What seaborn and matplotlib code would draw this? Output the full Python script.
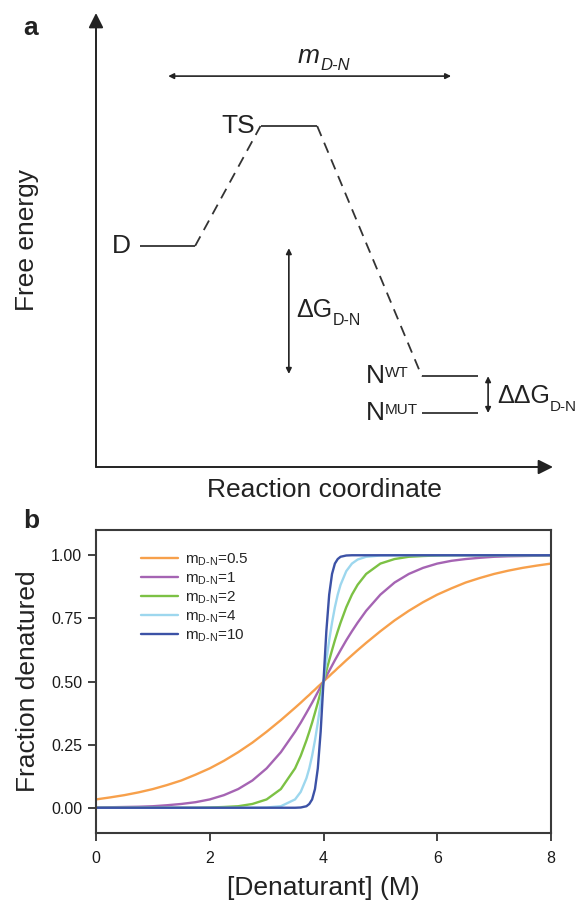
import numpy as np
import pandas as pd
import matplotlib
matplotlib.use("Agg")
import matplotlib.pyplot as plt
import seaborn as sns

# ---------------- data ----------------
# Panel a: schematic free-energy levels (arbitrary units)
state_names = ["D", "TS", "N", "N"]
state_sups = ["", "", "WT", "MUT"]
level_x_start = [0.96, 3.60, 7.13, 7.13]
level_x_end = [2.17, 4.84, 8.36, 8.36]
level_energy = [4.87, 7.51, 2.00, 1.19]

# Panel b: fraction denatured vs denaturant concentration
conc = [0, 0.25, 0.5, 0.75, 1, 1.25, 1.5, 1.75, 2, 2.25,
        2.5, 2.75, 3, 3.25, 3.5, 3.6, 3.7, 3.75, 3.8, 3.85,
        3.9, 3.95, 4, 4.05, 4.1, 4.15, 4.2, 4.25, 4.3, 4.4,
        4.5, 4.6, 4.75, 5, 5.25, 5.5, 5.75, 6, 6.25, 6.5,
        6.75, 7, 7.25, 7.5, 7.75, 8]
frac_m0_5 = [0.033, 0.041, 0.050, 0.061, 0.074, 0.090, 0.108, 0.131, 0.156, 0.186,
             0.220, 0.258, 0.301, 0.347, 0.396, 0.416, 0.437, 0.447, 0.458, 0.468,
             0.479, 0.489, 0.500, 0.511, 0.521, 0.532, 0.542, 0.553, 0.563, 0.584,
             0.604, 0.624, 0.653, 0.699, 0.742, 0.780, 0.814, 0.844, 0.869, 0.892,
             0.910, 0.926, 0.939, 0.950, 0.959, 0.967]
frac_m1 = [0.001, 0.002, 0.003, 0.004, 0.006, 0.010, 0.015, 0.022, 0.033, 0.050,
           0.074, 0.108, 0.156, 0.220, 0.301, 0.337, 0.376, 0.396, 0.416, 0.437,
           0.458, 0.479, 0.500, 0.521, 0.542, 0.563, 0.584, 0.604, 0.624, 0.663,
           0.699, 0.733, 0.780, 0.844, 0.892, 0.926, 0.950, 0.967, 0.978, 0.985,
           0.990, 0.994, 0.996, 0.997, 0.998, 0.999]
frac_m2 = [0.000, 0.000, 0.000, 0.000, 0.000, 0.000, 0.000, 0.000, 0.001, 0.003,
           0.006, 0.015, 0.033, 0.074, 0.156, 0.206, 0.267, 0.301, 0.337, 0.376,
           0.416, 0.458, 0.500, 0.542, 0.584, 0.624, 0.663, 0.699, 0.733, 0.794,
           0.844, 0.883, 0.926, 0.967, 0.985, 0.994, 0.997, 0.999, 1.000, 1.000,
           1.000, 1.000, 1.000, 1.000, 1.000, 1.000]
frac_m4 = [0.000, 0.000, 0.000, 0.000, 0.000, 0.000, 0.000, 0.000, 0.000, 0.000,
           0.000, 0.000, 0.001, 0.006, 0.033, 0.063, 0.117, 0.156, 0.206, 0.267,
           0.337, 0.416, 0.500, 0.584, 0.663, 0.733, 0.794, 0.844, 0.883, 0.937,
           0.967, 0.983, 0.994, 0.999, 1.000, 1.000, 1.000, 1.000, 1.000, 1.000,
           1.000, 1.000, 1.000, 1.000, 1.000, 1.000]
frac_m10 = [0.000, 0.000, 0.000, 0.000, 0.000, 0.000, 0.000, 0.000, 0.000, 0.000,
            0.000, 0.000, 0.000, 0.000, 0.000, 0.001, 0.006, 0.015, 0.033, 0.074,
            0.156, 0.301, 0.500, 0.699, 0.844, 0.926, 0.967, 0.985, 0.994, 0.999,
            1.000, 1.000, 1.000, 1.000, 1.000, 1.000, 1.000, 1.000, 1.000, 1.000,
            1.000, 1.000, 1.000, 1.000, 1.000, 1.000]
m_values = ["0.5", "1", "2", "4", "10"]
curve_colors = ["#F7A04B", "#A564B3", "#7CC144", "#9DD7EE", "#3C52A6"]
yticks_b = [0.00, 0.25, 0.50, 0.75, 1.00]
xticks_b = [0, 2, 4, 6, 8]

# ---------------- style ----------------
sns.set_theme(style="ticks")
plt.rcParams["font.family"] = ["Liberation Sans", "DejaVu Sans"]
plt.rcParams["mathtext.fontset"] = "custom"
plt.rcParams["mathtext.rm"] = "Liberation Sans"
plt.rcParams["mathtext.it"] = "Liberation Sans:italic"
plt.rcParams["mathtext.default"] = "regular"

W, H = 580, 900
fig = plt.figure(figsize=(5.8, 9.0), dpi=100, facecolor="white")

def px_axes(left, top, right, bottom):
    return fig.add_axes([left / W, 1 - bottom / H, (right - left) / W, (bottom - top) / H])

ink = "#222222"

# ---------------- panel a ----------------
ax_a = px_axes(96, 13, 553, 467)
ax_a.set_xlim(0, 10)
ax_a.set_ylim(0, 10)
for s in ax_a.spines.values():
    s.set_visible(False)
ax_a.set_xticks([])
ax_a.set_yticks([])
ax_a.patch.set_alpha(0)

arrow_kw = dict(arrowstyle="-|>", color=ink, lw=1.4, mutation_scale=22, shrinkA=0, shrinkB=0)
ax_a.annotate("", xy=(0, 1), xytext=(0, 0), xycoords="axes fraction", arrowprops=arrow_kw)
ax_a.annotate("", xy=(1, 0), xytext=(0, 0), xycoords="axes fraction", arrowprops=arrow_kw)

ax_a.xaxis.set_label_coords(0.484, -0.05)
ax_a.set_xlabel("Reaction coordinate", fontsize=19, color=ink, va="center")
ax_a.yaxis.set_label_coords(-0.151, 0.487)
ax_a.set_ylabel("Free energy", fontsize=19, color=ink, va="center")

# energy levels
for xs, xe, e in zip(level_x_start, level_x_end, level_energy):
    ax_a.plot([xs, xe], [e, e], color="#333333", lw=1.3, solid_capstyle="butt")

# dashed reaction path D -> TS -> N(WT)
ax_a.plot([level_x_end[0], level_x_start[1]], [level_energy[0], level_energy[1]],
          color="#333333", lw=1.3, ls=(0, (6, 4)))
ax_a.plot([level_x_end[1], level_x_start[2]], [level_energy[1], level_energy[2]],
          color="#333333", lw=1.3, ls=(0, (6, 4)))

# state labels
ax_a.text(level_x_start[0] - 0.2, level_energy[0], state_names[0], fontsize=19,
          ha="right", va="center", color=ink)
ax_a.text(level_x_start[1] - 0.12, level_energy[1], state_names[1], fontsize=19,
          ha="right", va="center", color=ink)
for i in (2, 3):
    t = ax_a.text(5.91, level_energy[i], state_names[i], fontsize=19, ha="left",
                  va="center", color=ink)
    ax_a.annotate(state_sups[i], xy=(1.0, 0.93), xycoords=t, fontsize=11,
                  ha="left", va="top", color=ink)

dbl_kw = dict(arrowstyle="<|-|>", color=ink, lw=1.2, mutation_scale=8, shrinkA=0, shrinkB=0)
# m_D-N arrow
m_y = 8.61
ax_a.annotate("", xy=(7.77, m_y), xytext=(1.58, m_y), xycoords="data", arrowprops=dbl_kw)
tm = ax_a.text(4.42, 8.90, "m", fontsize=19, style="italic", ha="left",
               va="baseline", color=ink)
ax_a.annotate("D-N", xy=(1.0, 0.12), xycoords=tm, fontsize=12, style="italic",
              ha="left", va="center", color=ink)

# Delta G arrow
ax_a.annotate("", xy=(4.22, level_energy[2] + 0.05), xytext=(4.22, level_energy[0] - 0.05),
              arrowprops=dbl_kw)
tg = ax_a.text(4.38, 3.46, "\u0394G", fontsize=18, ha="left", va="center", color=ink)
ax_a.annotate("D-N", xy=(1.0, 0.05), xycoords=tg, fontsize=11.5, ha="left",
              va="center", color=ink)

# Delta Delta G arrow
ax_a.annotate("", xy=(8.58, level_energy[3]), xytext=(8.58, level_energy[2]),
              arrowprops=dbl_kw)
tgg = ax_a.text(8.78, 1.56, "\u0394\u0394G", fontsize=18, ha="left", va="center", color=ink)
ax_a.annotate("D-N", xy=(1.0, 0.05), xycoords=tgg, fontsize=11, ha="left",
              va="center", color=ink)

fig.text(31 / W, 1 - 28 / H, "a", fontsize=19, fontweight="bold", ha="center",
         va="center", color=ink)

# ---------------- panel b ----------------
ax_b = px_axes(96, 530, 551, 833)
series = [frac_m0_5, frac_m1, frac_m2, frac_m4, frac_m10]
labels = [r"m$_{D\text{-}N}$=" + m for m in m_values]
frames = []
for lab, ys in zip(labels, series):
    frames.append(pd.DataFrame({"conc": conc, "frac": ys, "curve": lab}))
df = pd.concat(frames, ignore_index=True)
sns.lineplot(data=df, x="conc", y="frac", hue="curve", hue_order=labels,
             palette=dict(zip(labels, curve_colors)), lw=1.7, ax=ax_b, sort=False)

ax_b.set_xlim(0, 8)
ax_b.set_ylim(-0.1, 1.1)
ax_b.set_xticks(xticks_b)
ax_b.set_xticklabels([str(v) for v in xticks_b])
ax_b.set_yticks(yticks_b)
ax_b.set_yticklabels([f"{v:.2f}" for v in yticks_b])
ax_b.tick_params(axis="both", direction="out", length=6, width=1.3, colors="#333333",
                 labelsize=11.5, labelcolor="#1a1a1a", pad=4)
ax_b.tick_params(axis="x", pad=7)
for s in ax_b.spines.values():
    s.set_linewidth(1.5)
    s.set_color("#3a3a3a")

ax_b.xaxis.set_label_coords(0.5, -0.182)
ax_b.set_xlabel("[Denaturant] (M)", fontsize=19, color=ink, va="center")
ax_b.yaxis.set_label_coords(-0.149, 0.5)
ax_b.set_ylabel("Fraction denatured", fontsize=19, color=ink, va="center")

handles, labs = ax_b.get_legend_handles_labels()
ax_b.legend(handles, labs, loc="upper left", bbox_to_anchor=(0.099, 0.928),
            frameon=False, fontsize=11, handlelength=2.45, handletextpad=0.45,
            labelspacing=0.165, borderpad=0, borderaxespad=0)

fig.text(31 / W, 1 - 521 / H, "b", fontsize=19, fontweight="bold", ha="center",
         va="center", color=ink)

fig.savefig("out.png", dpi=100, facecolor="white")
